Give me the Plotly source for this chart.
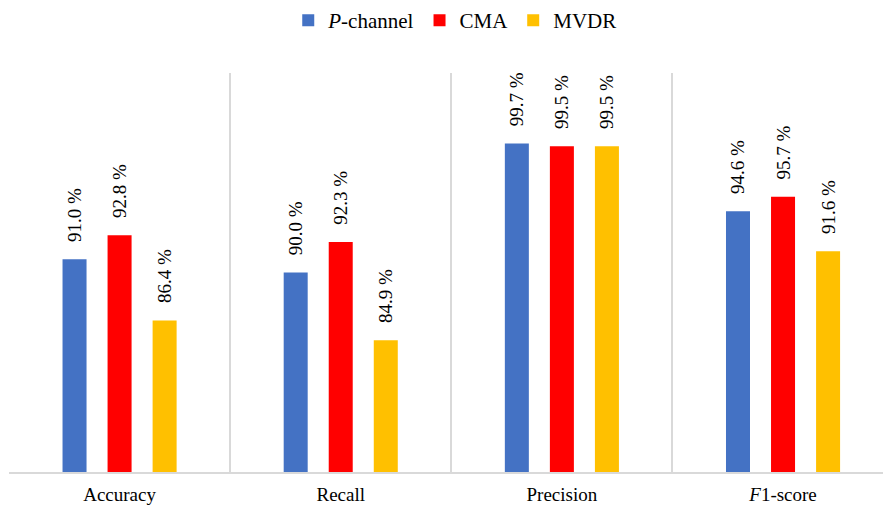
import plotly.graph_objects as go

# Metrics compared across the three processing methods
categories = ["Accuracy", "Recall", "Precision", "<i>F</i>1-score"]
series_names = ["<i>P</i>-channel", "CMA", "MVDR"]
p_channel = [91.0, 90.0, 99.7, 94.6]
cma = [92.8, 92.3, 99.5, 95.7]
mvdr = [86.4, 84.9, 99.5, 91.6]

colors = ["#4472C4", "#FF0000", "#FFC000"]
font_family = "Times New Roman, Liberation Serif, DejaVu Serif, serif"

fig = go.Figure()
for name, vals, col in zip(series_names, [p_channel, cma, mvdr], colors):
    fig.add_trace(go.Bar(
        x=categories,
        y=vals,
        name=name,
        marker=dict(color=col, line=dict(width=0)),
        # leading no-break spaces keep the rotated label clear of the bar top
        texttemplate="\u00a0\u00a0\u00a0%{y:.1f} %",
        textposition="outside",
        textangle=-90,
        constraintext="none",
        cliponaxis=False,
        textfont=dict(family=font_family, size=19, color="#000000"),
    ))

fig.update_layout(
    width=883,
    height=509,
    margin=dict(l=9, r=0, t=73, b=37),
    paper_bgcolor="white",
    plot_bgcolor="white",
    barmode="group",
    bargap=0.389,
    bargroupgap=0.467,
    font=dict(family=font_family, size=19, color="#000000"),
    showlegend=True,
    legend=dict(
        orientation="h",
        xref="container",
        yref="container",
        x=0.515,
        y=1.0,
        xanchor="center",
        yanchor="top",
        font=dict(family=font_family, size=21, color="#000000"),
        itemwidth=30,
        traceorder="normal",
    ),
    xaxis=dict(
        type="category",
        range=[-0.5, 3.452],
        tickson="boundaries",
        ticks="",
        showgrid=True,
        gridcolor="#D9D9D9",
        gridwidth=1.5,
        showline=True,
        linecolor="#D9D9D9",
        linewidth=1.5,
        tickfont=dict(family=font_family, size=19, color="#000000"),
        ticklabelstandoff=4,
        fixedrange=True,
    ),
    yaxis=dict(
        range=[75, 105],
        visible=False,
        showgrid=False,
        zeroline=False,
        fixedrange=True,
    ),
)

fig.write_html("out.html")
